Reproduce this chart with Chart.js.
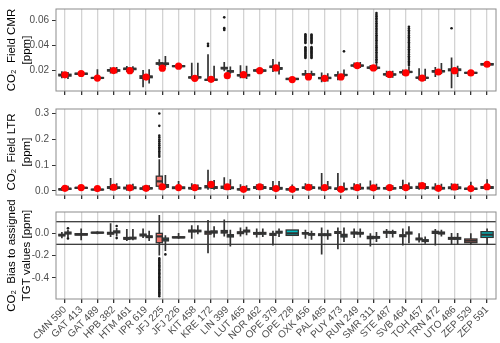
<!DOCTYPE html>
<html>
<head>
<meta charset="utf-8">
<script src="https://cdn.jsdelivr.net/npm/chart.js@4.4.1/dist/chart.umd.min.js"></script>
<style>
body { margin: 0; background: #fff; }
#wrap { position: relative; width: 500px; height: 343px; }
canvas { position: absolute; left: 0; }
</style>
</head>
<body>
<div id="wrap">
  <canvas id="cmrChart" width="500" height="100" style="top:0"></canvas>
  <canvas id="ltrChart" width="500" height="104" style="top:100px"></canvas>
  <canvas id="biasChart" width="500" height="153" style="top:190px"></canvas>
</div>
<script>
const sites = ['CMN 590','GAT 413','GAT 489','HPB 382','HTM 461','IPR 619','JFJ 225','JFJ 226','KIT 458',
  'KRE 172','LIN 399','LUT 465','NOR 462','OPE 379','OPE 728','OXK 456','PAL 485','PUY 473','RUN 249',
  'SMR 311','STE 487','SVB 464','TOH 457','TRN 472','UTO 486','ZEP 529','ZEP 591'];

// box stats per site: [lower whisker, q1, median, q3, upper whisker]; A = left group, B = right group
const cmrA = [
  [0.0140,0.0160,0.0165,0.0172,0.0195],[0.0165,0.0172,0.0176,0.0180,0.0188],[0.0138,0.0141,0.0143,0.0146,0.0212],
  [0.0178,0.0198,0.0203,0.0208,0.0228],[0.0190,0.0210,0.0215,0.0220,0.0238],[0.0070,0.0140,0.0150,0.0160,0.0205],
  [0.0235,0.0252,0.0257,0.0262,0.0290],[0.0228,0.0233,0.0236,0.0239,0.0244],[0.0130,0.0143,0.0147,0.0151,0.0262],
  [0.0120,0.0125,0.0128,0.0131,0.0330],[0.0195,0.0215,0.0220,0.0226,0.0268],[0.0140,0.0160,0.0164,0.0168,0.0244],
  [0.0190,0.0198,0.0202,0.0206,0.0215],[0.0190,0.0226,0.0231,0.0236,0.0292],null,
  [0.0160,0.0168,0.0172,0.0176,0.0205],[0.0110,0.0138,0.0142,0.0146,0.0185],[0.0125,0.0160,0.0164,0.0168,0.0195],
  [0.0225,0.0238,0.0241,0.0244,0.0265],[0.0210,0.0220,0.0224,0.0228,0.0245],[0.0150,0.0168,0.0171,0.0175,0.0200],
  [0.0165,0.0185,0.0188,0.0192,0.0210],[0.0125,0.0142,0.0145,0.0148,0.0220],[0.0150,0.0190,0.0195,0.0200,0.0230],
  [0.0062,0.0200,0.0207,0.0214,0.0304],[0.0175,0.0181,0.0183,0.0186,0.0195],null
];
const cmrB = [
  [0.0135,0.0158,0.0166,0.0172,0.0190],null,null,
  [0.0180,0.0197,0.0202,0.0207,0.0230],[0.0188,0.0209,0.0214,0.0219,0.0236],[0.0100,0.0145,0.0152,0.0158,0.0212],
  [0.0232,0.0250,0.0255,0.0260,0.0316],null,[0.0132,0.0144,0.0148,0.0152,0.0262],
  [0.0120,0.0126,0.0129,0.0132,0.0240],[0.0176,0.0190,0.0195,0.0200,0.0234],[0.0135,0.0160,0.0165,0.0170,0.0240],
  [0.0188,0.0197,0.0201,0.0205,0.0212],[0.0170,0.0212,0.0218,0.0224,0.0270],[0.0120,0.0131,0.0135,0.0139,0.0150],
  [0.0158,0.0167,0.0171,0.0175,0.0200],[0.0115,0.0139,0.0143,0.0147,0.0180],[0.0150,0.0163,0.0166,0.0170,0.0210],
  [0.0222,0.0237,0.0240,0.0244,0.0268],[0.0205,0.0219,0.0223,0.0227,0.0255],[0.0145,0.0167,0.0170,0.0174,0.0200],
  [0.0180,0.0187,0.0190,0.0194,0.0235],[0.0120,0.0141,0.0144,0.0147,0.0215],[0.0175,0.0192,0.0196,0.0200,0.0260],
  [0.0150,0.0202,0.0208,0.0213,0.0240],null,[0.0235,0.0246,0.0251,0.0256,0.0275]
];
const cmrRef = [0.0168,0.0178,0.0142,0.0201,0.0200,0.0150,0.0220,0.0236,0.0140,0.0132,0.0161,0.0169,0.0200,0.0222,
  0.0130,0.0151,0.0140,0.0151,0.0241,0.0222,0.0171,0.0183,0.0142,0.0190,0.0200,0.0183,0.0251];
const cmrOutA = {
  'KRE 172': [0.0413,0.0396],
  'LIN 399': [0.0621,0.0536,0.0522],
  'OXK 456': [0.0487,0.0478,0.0470,0.0461,0.0453,0.0444,0.0436,0.0427,0.0419,0.0385,0.0376,0.0368,0.0359,
              0.0351,0.0342,0.0334,0.0325,0.0317,0.0308,0.0300],
  'UTO 486': [0.0535]
};
const cmrOutB = {
  'OXK 456': [0.0486,0.0477,0.0469,0.0460,0.0452,0.0443,0.0435,0.0426,0.0418,0.0386,0.0377,0.0369,0.0360,
              0.0352,0.0343,0.0335,0.0326,0.0318,0.0309,0.0301],
  'PUY 473': [0.0353],
  'SMR 311': [0.0656,0.0641,0.0629,0.0615,0.0602,0.0588,0.0575,0.0561,0.0548,0.0534,0.0521,0.0507,0.0494,0.0480,
              0.0467,0.0453,0.0440,0.0426,0.0413,0.0399,0.0386,0.0372,0.0359,0.0345,0.0332,0.0318,0.0305,0.0291,0.0278,0.0264],
  'SVB 464': [0.0547,0.0533,0.0519,0.0506,0.0492,0.0478,0.0465,0.0451,0.0437,0.0424,0.0410,0.0396,0.0383,0.0369,
              0.0355,0.0342,0.0328,0.0314,0.0301,0.0287,0.0273,0.0260,0.0246]
};
const cmrTicks = [0.02, 0.04, 0.06];

const ltrA = [
  [0.000,0.004,0.006,0.008,0.015],[0.006,0.010,0.012,0.013,0.018],[0.000,0.004,0.005,0.006,0.010],
  [0.002,0.010,0.013,0.016,0.050],[0.000,0.008,0.011,0.014,0.025],[0.002,0.007,0.009,0.011,0.020],
  [0.005,0.018,0.037,0.057,0.123],[0.004,0.009,0.012,0.015,0.038],[0.003,0.008,0.010,0.013,0.030],
  [0.004,0.012,0.016,0.020,0.082],[0.004,0.010,0.014,0.018,0.053],[0.000,0.004,0.006,0.008,0.026],
  [0.003,0.010,0.013,0.016,0.026],[0.000,0.006,0.009,0.012,0.038],null,
  [0.004,0.010,0.012,0.015,0.030],[0.000,0.008,0.011,0.014,0.069],[0.000,0.006,0.008,0.011,0.069],
  [0.002,0.008,0.010,0.013,0.030],[0.002,0.008,0.011,0.014,0.040],[0.004,0.008,0.010,0.012,0.020],
  [0.004,0.010,0.013,0.016,0.043],[0.004,0.010,0.013,0.017,0.032],[0.002,0.008,0.011,0.014,0.030],
  [0.002,0.009,0.012,0.015,0.030],[0.002,0.006,0.008,0.010,0.035],null
];
const ltrB = [
  [0.002,0.006,0.008,0.010,0.020],null,null,
  [0.004,0.010,0.012,0.015,0.030],[0.002,0.009,0.012,0.015,0.028],[0.003,0.008,0.010,0.012,0.022],
  [0.008,0.014,0.018,0.024,0.062],null,[0.004,0.008,0.010,0.012,0.025],
  [0.004,0.010,0.013,0.016,0.042],[0.003,0.009,0.012,0.015,0.045],[0.001,0.004,0.006,0.008,0.022],
  [0.004,0.010,0.013,0.016,0.026],[0.002,0.007,0.010,0.013,0.038],[0.000,0.004,0.006,0.008,0.025],
  [0.004,0.010,0.013,0.015,0.026],[0.003,0.009,0.012,0.015,0.038],[0.000,0.005,0.007,0.009,0.032],
  [0.003,0.008,0.011,0.013,0.030],[0.003,0.008,0.010,0.013,0.028],[0.003,0.008,0.010,0.012,0.022],
  [0.004,0.010,0.012,0.015,0.032],[0.004,0.010,0.013,0.016,0.030],[0.003,0.008,0.010,0.013,0.028],
  [0.003,0.009,0.012,0.015,0.028],null,[0.004,0.010,0.013,0.016,0.045]
];
const ltrRef = [0.010,0.0126,0.009,0.014,0.012,0.010,0.016,0.0126,0.0126,0.025,0.016,0.006,0.016,0.009,
  0.006,0.014,0.0126,0.006,0.0126,0.012,0.0126,0.0126,0.020,0.010,0.015,0.009,0.016];
const ltrOutA = {
  'JFJ 225': [0.300,0.252,0.214,0.207,0.199,0.192,0.184,0.177,0.169,0.162,0.154,0.147,0.139,0.132]
};
const ltrTicks = [0.0, 0.1, 0.2, 0.3];

const biasA = [
  [-0.047,-0.025,-0.018,-0.012,0.010],[-0.065,-0.018,-0.012,-0.006,0.040],[-0.010,0.000,0.003,0.006,0.015],
  [-0.035,-0.010,0.000,0.005,0.086],[-0.070,-0.055,-0.050,-0.040,0.035],[-0.045,-0.025,-0.018,-0.010,0.040],
  [-0.200,-0.086,-0.030,-0.003,0.160],[-0.050,-0.042,-0.039,-0.034,0.000],[-0.050,0.010,0.018,0.026,0.070],
  [-0.180,-0.010,0.003,0.015,0.115],[-0.030,0.000,0.010,0.022,0.120],[-0.030,-0.005,0.003,0.010,0.050],
  [-0.040,-0.010,-0.003,0.004,0.040],[-0.110,-0.020,-0.012,-0.004,0.020],null,
  [-0.050,-0.008,-0.003,0.003,0.030],[-0.190,-0.022,-0.015,-0.008,0.050],[-0.145,-0.003,0.007,0.012,0.050],
  [-0.045,-0.008,0.000,0.008,0.040],[-0.120,-0.050,-0.042,-0.030,-0.003],[-0.045,0.000,0.007,0.014,0.035],
  [-0.110,-0.032,-0.024,-0.016,0.040],[-0.085,-0.060,-0.053,-0.046,-0.003],[-0.110,-0.003,0.007,0.015,0.035],
  [-0.105,-0.055,-0.047,-0.040,0.000],[-0.100,-0.086,-0.068,-0.053,-0.003],null
];
const biasB = [
  [-0.035,-0.008,0.000,0.008,0.030],null,null,
  [-0.030,0.002,0.010,0.018,0.045],[-0.065,-0.052,-0.045,-0.038,0.035],[-0.070,-0.040,-0.033,-0.026,0.020],
  [-0.160,-0.070,-0.058,-0.045,-0.020],null,[-0.010,0.012,0.018,0.024,0.070],
  [-0.040,0.000,0.010,0.018,0.060],[-0.120,-0.035,-0.024,-0.015,0.030],[-0.020,0.010,0.018,0.025,0.055],
  [-0.035,-0.010,-0.002,0.005,0.040],[-0.035,0.000,0.007,0.015,0.040],[-0.021,-0.021,-0.003,0.027,0.027],
  [-0.060,-0.018,-0.012,-0.006,0.020],[-0.060,-0.022,-0.015,-0.008,0.030],[-0.080,-0.035,-0.024,-0.012,0.050],
  [-0.040,-0.008,-0.003,0.005,0.040],[-0.080,-0.045,-0.039,-0.032,0.010],[-0.040,-0.002,0.005,0.012,0.030],
  [-0.090,-0.008,0.000,0.008,0.060],[-0.095,-0.075,-0.068,-0.060,-0.030],[-0.030,-0.008,0.000,0.008,0.030],
  [-0.100,-0.055,-0.047,-0.040,0.000],null,[-0.100,-0.039,-0.015,0.012,0.040]
];
const biasOutA = {
  'JFJ 225': [-0.226,-0.238,-0.250,-0.262,-0.274,-0.286,-0.298,-0.310,-0.322,-0.334,-0.346,-0.358,-0.370,-0.382,
              -0.394,-0.406,-0.418,-0.430,-0.442,-0.454,-0.466,-0.478,-0.490,-0.502,-0.514,-0.526,-0.538,-0.550,-0.562]
};
const biasOutB = {
  'CMN 590': [0.042,-0.048],
  'HPB 382': [0.062,-0.045],
  'JFJ 225': [-0.190]
};
const biasTicks = [-0.4, -0.2, 0.0];
const biasLimits = [-0.1, 0.1];

const fillA = '#F8766D';
const fillB = '#00BFC4';
const ink = '#333333';

Chart.defaults.font.family = "'Liberation Sans', Arial, sans-serif";

// dodge offset of a group inside its site slot
function dodge(a, b, i, g) {
  if (a[i] && b[i]) return g === 'a' ? -0.1875 : 0.1875;
  return 0;
}

function drawBox(ctx, x, y, s, cx, w, fill) {
  const px = x.getPixelForValue(cx);
  const half = (x.getPixelForValue(cx + w / 2) - x.getPixelForValue(cx - w / 2)) / 2;
  const [lo, q1, med, q3, hi] = s.map(v => y.getPixelForValue(v));
  ctx.strokeStyle = ink;
  ctx.lineWidth = 1.7;
  ctx.beginPath();
  ctx.moveTo(px, lo); ctx.lineTo(px, q1);
  ctx.moveTo(px, q3); ctx.lineTo(px, hi);
  ctx.stroke();
  ctx.fillStyle = fill;
  ctx.fillRect(px - half, q3, half * 2, q1 - q3);
  ctx.lineWidth = 1.3;
  ctx.strokeRect(px - half, q3, half * 2, q1 - q3);
  ctx.lineWidth = 2.2;
  ctx.beginPath();
  ctx.moveTo(px - half, med); ctx.lineTo(px + half, med);
  ctx.stroke();
}

const boxPlugin = {
  id: 'boxes',
  beforeDatasetsDraw(chart, args, opts) {
    const { ctx, chartArea, scales: { x, y } } = chart;
    ctx.save();
    ctx.beginPath();
    ctx.rect(chartArea.left, chartArea.top, chartArea.width, chartArea.height);
    ctx.clip();
    (opts.lines || []).forEach(v => {
      const py = y.getPixelForValue(v);
      ctx.strokeStyle = '#000';
      ctx.lineWidth = 1;
      ctx.beginPath();
      ctx.moveTo(chartArea.left, py); ctx.lineTo(chartArea.right, py);
      ctx.stroke();
    });
    sites.forEach((name, i) => {
      const both = opts.a[i] && opts.b[i];
      const w = both ? 0.375 : 0.75;
      if (opts.a[i]) drawBox(ctx, x, y, opts.a[i], i + 1 + dodge(opts.a, opts.b, i, 'a'), w, fillA);
      if (opts.b[i]) drawBox(ctx, x, y, opts.b[i], i + 1 + dodge(opts.a, opts.b, i, 'b'), w, fillB);
    });
    ctx.restore();
  },
  afterDraw(chart) {
    const { ctx, chartArea } = chart;
    ctx.save();
    ctx.strokeStyle = '#8c8c8c';
    ctx.lineWidth = 1;
    ctx.strokeRect(chartArea.left, chartArea.top, chartArea.width, chartArea.height);
    ctx.restore();
  }
};

function makePanel(id, cfg) {
  const pts = [];
  [['a', cfg.outA], ['b', cfg.outB]].forEach(([g, outs]) => {
    Object.keys(outs || {}).forEach(name => {
      const i = sites.indexOf(name);
      outs[name].forEach(v => pts.push({ x: i + 1 + dodge(cfg.a, cfg.b, i, g), y: v }));
    });
  });
  const datasets = [];
  if (cfg.ref) {
    datasets.push({
      data: cfg.ref.map((v, i) => ({ x: i + 1, y: v })),
      pointRadius: 3.6, pointBackgroundColor: '#ff0000', pointBorderWidth: 0
    });
  }
  datasets.push({ data: pts, pointRadius: 1.3, pointBackgroundColor: '#1a1a1a', pointBorderWidth: 0 });

  return new Chart(document.getElementById(id), {
    type: 'scatter',
    data: { datasets: datasets },
    options: {
      responsive: false,
      animation: false,
      layout: { padding: { top: cfg.padTop, bottom: 0, left: 0, right: 4 } },
      plugins: {
        legend: { display: false },
        tooltip: { enabled: false },
        boxes: { a: cfg.a, b: cfg.b, lines: cfg.lines }
      },
      scales: {
        x: {
          type: 'linear', min: 0.45, max: 27.55,
          afterBuildTicks: s => { s.ticks = sites.map((_, i) => ({ value: i + 1 })); },
          afterFit: s => { s.height = cfg.xHeight; s.paddingLeft = 0; s.paddingRight = 0; },
          grid: { color: '#d3d3d3', lineWidth: 1.3, tickColor: ink, tickLength: 4 },
          border: { display: false },
          ticks: {
            display: cfg.labels, autoSkip: false, minRotation: 45, maxRotation: 45, padding: 1,
            color: '#4d4d4d', font: { size: 10 },
            callback: v => sites[Math.round(v) - 1]
          }
        },
        y: {
          min: cfg.min, max: cfg.max,
          afterBuildTicks: s => { s.ticks = cfg.ticks.map(v => ({ value: v })); },
          afterFit: s => { s.width = 56; },
          grid: { drawOnChartArea: false, tickColor: ink, tickLength: 4 },
          border: { display: false },
          ticks: { color: '#4d4d4d', font: { size: 10 }, padding: 3, callback: v => v.toFixed(cfg.dec) },
          title: {
            display: true, text: cfg.title, color: '#000',
            font: { size: 11.5, lineHeight: 1.3 }, padding: { top: 4.5, bottom: 0 }
          }
        }
      }
    },
    plugins: [boxPlugin]
  });
}

makePanel('cmrChart', {
  a: cmrA, b: cmrB, ref: cmrRef, outA: cmrOutA, outB: cmrOutB,
  min: 0.004, max: 0.0687, ticks: cmrTicks, dec: 2,
  title: ['CO\u2082  Field CMR', '[ppm]'], padTop: 4, xHeight: 7, labels: false
});
makePanel('ltrChart', {
  a: ltrA, b: ltrB, ref: ltrRef, outA: ltrOutA,
  min: -0.016, max: 0.3174, ticks: ltrTicks, dec: 1,
  title: ['CO\u2082  Field LTR', '[ppm]'], padTop: 7, xHeight: 7, labels: false
});
makePanel('biasChart', {
  a: biasA, b: biasB, outA: biasOutA, outB: biasOutB, lines: biasLimits,
  min: -0.587, max: 0.187, ticks: biasTicks, dec: 1,
  title: ['CO\u2082  Bias to assigned', 'TGT values [ppm]'], padTop: 22, xHeight: 44, labels: true
});
</script>
</body>
</html>
